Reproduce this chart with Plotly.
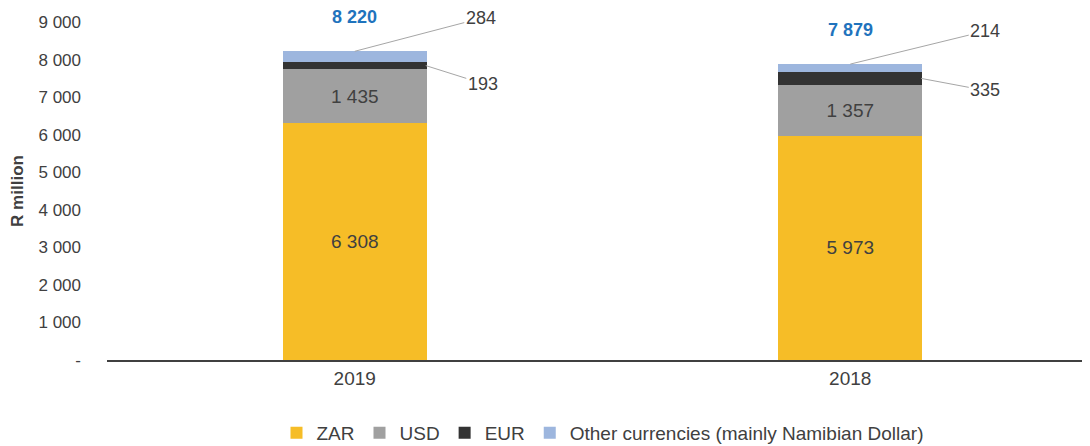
import plotly.graph_objects as go

years = ["2019", "2018"]
zar = [6308, 5973]
usd = [1435, 1357]
eur = [193, 335]
other = [284, 214]
totals = [8220, 7879]
series_names = ["ZAR", "USD", "EUR", "Other currencies (mainly Namibian Dollar)"]
colors = ["#F6BD27", "#A0A0A0", "#333333", "#9DB6DE"]
tick_vals = [0, 1000, 2000, 3000, 4000, 5000, 6000, 7000, 8000, 9000]
tick_text = ["-", "1 000", "2 000", "3 000", "4 000", "5 000", "6 000", "7 000", "8 000", "9 000"]

FONT = "Liberation Sans, Arial, sans-serif"
TXT = "#404040"

fig = go.Figure()
all_vals = [zar, usd, eur, other]
for i, (name, vals, col) in enumerate(zip(series_names, all_vals, colors)):
    show_text = i < 2
    fig.add_trace(go.Bar(
        x=years, y=vals, name=name, marker=dict(color=col, line=dict(width=0)),
        text=vals if show_text else None,
        texttemplate="%{y:,.0f}" if show_text else None,
        textposition="inside" if show_text else "none",
        insidetextanchor="middle",
        textfont=dict(family=FONT, size=19, color=TXT),
        hoverinfo="skip",
    ))

# category positions on the axis (index of each category)
cat_pos = {yr: i for i, yr in enumerate(years)}

# total labels
for yr, t in zip(years, totals):
    fig.add_annotation(x=cat_pos[yr], y=t, text="<b>" + f"{t:,}".replace(",", " ") + "</b>",
                       showarrow=False, yanchor="bottom", yshift=22,
                       font=dict(family=FONT, size=18, color="#1F73BD"))

# leader line labels
lead = [
    # (year index, y value, text, xshift, ax, ay)
    (0, totals[0], other[0], 0, 126, -33),
    (0, zar[0] + usd[0] + eur[0] / 2, eur[0], 71, 57, 18),
    (1, totals[1], other[1], 0, 135, -33),
    (1, zar[1] + usd[1] + eur[1] / 2, eur[1], 71, 64, 12),
]
for idx, yv, val, xs, ax, ay in lead:
    fig.add_annotation(x=idx, y=yv, text=f"{val:,}".replace(",", " "),
                       showarrow=True, arrowhead=0, arrowwidth=1, arrowcolor="#A6A6A6",
                       ax=ax, ay=ay, xshift=xs,
                       font=dict(family=FONT, size=18, color=TXT))

fig.update_layout(
    barmode="stack",
    bargap=0.71,
    separators=". ",
    width=1090, height=446,
    margin=dict(l=99, r=0, t=14, b=94, autoexpand=False),
    plot_bgcolor="white", paper_bgcolor="white",
    font=dict(family=FONT, size=16, color=TXT),
    showlegend=True,
    legend=dict(orientation="h", x=0.5, xanchor="center", y=-0.216, yanchor="middle",
                font=dict(family=FONT, size=19, color=TXT),
                itemwidth=30, traceorder="normal"),
    xaxis=dict(type="category", range=[-0.5, 1.5], autorange=False, showline=True,
               linecolor="#404040", linewidth=1.5, automargin=False,
               ticks="", tickfont=dict(family=FONT, size=19, color=TXT), showgrid=False),
    yaxis=dict(range=[0, 9000], autorange=False, tickvals=tick_vals, ticktext=tick_text, showgrid=False,
               zeroline=False, showline=False, ticks="", automargin=False,
               ticklabelstandoff=25,
               tickfont=dict(family=FONT, size=17, color=TXT),
               title=dict(text="<b>R million</b>", font=dict(family=FONT, size=17, color=TXT), standoff=14)),
)

fig.write_html("out.html")
